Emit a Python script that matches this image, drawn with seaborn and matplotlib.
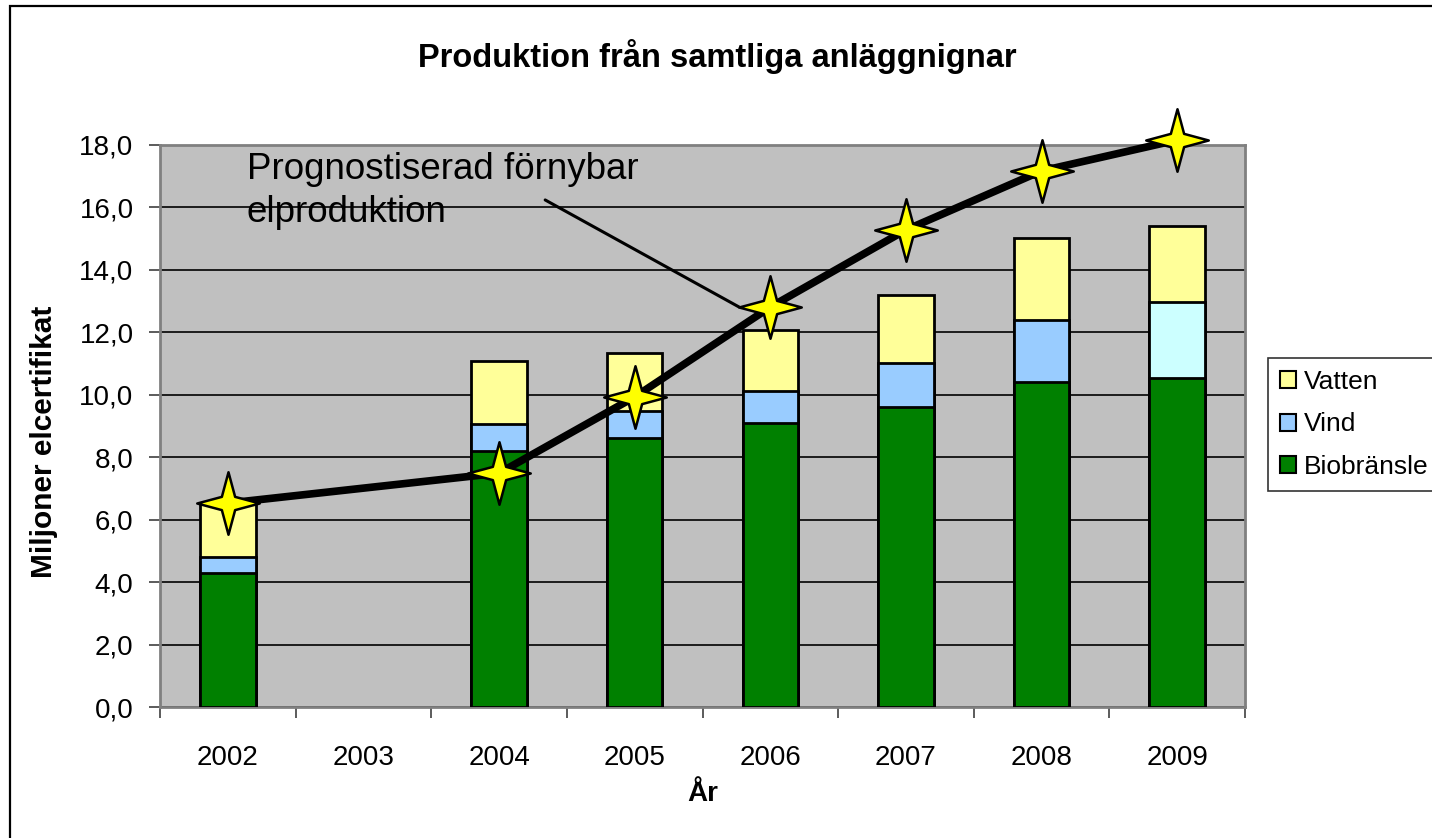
import numpy as np
import pandas as pd
import matplotlib
matplotlib.use("Agg")
import matplotlib.pyplot as plt
import matplotlib.path as mpath
from matplotlib.patches import Patch, Rectangle
from matplotlib.ticker import FixedLocator, FuncFormatter
import seaborn as sns

# ---- data ----
years = ["2002", "2003", "2004", "2005", "2006", "2007", "2008", "2009"]
biobransle = [4.3, np.nan, 8.2, 8.6, 9.1, 9.6, 10.4, 10.55]
vind = [0.52, np.nan, 0.88, 0.87, 1.02, 1.42, 1.98, 2.43]
vatten = [1.67, np.nan, 1.99, 1.86, 1.97, 2.19, 2.64, 2.44]
prog_years = ["2002", "2004", "2005", "2006", "2007", "2008", "2009"]
prog_values = [6.53, 7.49, 9.93, 12.81, 15.28, 17.17, 18.16]

title = "Produktion från samtliga anläggnignar"
xlabel = "År"
ylabel = "Miljoner elcertifikat"
annot_text = "Prognostiserad förnybar\nelproduktion"
series_names = ["Vatten", "Vind", "Biobränsle"]

# ---- colors ----
c_bio = "#008000"
c_vind = "#99CCFF"
c_vind_2009 = "#CCFFFF"
c_vatten = "#FFFF99"
vind_colors = [c_vind] * (len(years) - 1) + [c_vind_2009]

sns.set_style("white")
plt.rcParams["font.family"] = ["Liberation Sans", "DejaVu Sans"]
plt.rcParams["text.color"] = "black"
plt.rcParams["axes.labelcolor"] = "black"
plt.rcParams["xtick.color"] = "black"
plt.rcParams["ytick.color"] = "black"

df = pd.DataFrame({"year": years, "bio": biobransle, "vind": vind, "vatten": vatten})
df["bio_vind"] = df["bio"] + df["vind"]
df["total"] = df["bio_vind"] + df["vatten"]

fig = plt.figure(figsize=(14.32, 8.38), dpi=100)
ax = fig.add_axes([160 / 1432, 1 - 707 / 838, 1085 / 1432, 562 / 838])
ax.set_facecolor("#C0C0C0")

bw = 0.41
bar_kw = dict(order=years, width=bw, edgecolor="black", linewidth=2.0,
              errorbar=None, ax=ax, zorder=3)
sns.barplot(data=df, x="year", y="total", color=c_vatten, saturation=1, **bar_kw)
sns.barplot(data=df, x="year", y="bio_vind", hue="year", hue_order=years,
            palette=vind_colors, saturation=1, legend=False, dodge=False, **bar_kw)
sns.barplot(data=df, x="year", y="bio", color=c_bio, saturation=1, **bar_kw)

# prognosis line with star markers
pos = {y: i for i, y in enumerate(years)}
prog_df = pd.DataFrame({"x": [pos[y] for y in prog_years], "v": prog_values})
sns.lineplot(data=prog_df, x="x", y="v", color="black", lw=5.5, sort=False,
             ax=ax, zorder=5, solid_capstyle="butt", solid_joinstyle="round")

ang = np.deg2rad(90 + 45 * np.arange(8))
rad = np.where(np.arange(8) % 2 == 0, 1.0, 0.3)
verts = np.column_stack([rad * np.cos(ang), rad * np.sin(ang)])
verts = np.vstack([verts, verts[:1]])
codes = [mpath.Path.MOVETO] + [mpath.Path.LINETO] * 7 + [mpath.Path.CLOSEPOLY]
star = mpath.Path(verts, codes)
sns.scatterplot(data=prog_df, x="x", y="v", marker=star, s=45 ** 2,
                color="#FFFF00", edgecolor="black", linewidth=1.8, ax=ax, zorder=6)

for ln in ax.lines:
    ln.set_clip_on(False)
for col in ax.collections:
    col.set_clip_on(False)

# annotation
i06 = prog_years.index("2006")
ax.annotate("", xy=(pos["2006"] - 0.23, prog_values[i06]), xytext=(2.34, 16.24),
            arrowprops=dict(arrowstyle="-", lw=2.2, color="black",
                            shrinkA=0, shrinkB=0), zorder=4)
ax.text(0.14, 17.78, annot_text, fontsize=26.5, va="top", ha="left",
        linespacing=1.3, zorder=4)

# axes
ax.set_ylim(0, 18)
ax.set_xlim(-0.5, len(years) - 0.5)
ax.yaxis.set_major_locator(FixedLocator(np.arange(0, 18.1, 2)))
ax.yaxis.set_major_formatter(FuncFormatter(lambda v, p: f"{v:.1f}".replace(".", ",")))
ax.grid(axis="y", color="black", lw=1.2, zorder=0)
ax.grid(axis="x", visible=False)
ax.set_axisbelow(True)
ax.xaxis.set_minor_locator(FixedLocator(np.arange(-0.5, len(years), 1.0)))
ax.tick_params(axis="x", which="major", length=0, pad=27, labelsize=20)
ax.tick_params(axis="x", which="minor", length=8, width=1.2, color="#404040",
               direction="out", bottom=True)
ax.tick_params(axis="y", which="major", length=8, width=1.2, color="#404040",
               direction="out", left=True, pad=11, labelsize=20)
for s in ax.spines.values():
    s.set_color("#808080")
    s.set_linewidth(2.0)
    s.set_zorder(2)

ax.set_xlabel(xlabel, fontsize=20, fontweight="bold")
ax.xaxis.set_label_coords(0.5, -0.132)
ax.set_ylabel(ylabel, fontsize=21.5, fontweight="bold")
ax.yaxis.set_label_coords(-0.094, 0.472)

fig.text(717 / 1432, 1 - 67 / 838, title, fontsize=23.5, fontweight="bold",
         ha="center", va="baseline")

handles = [Patch(facecolor=c, edgecolor="black", lw=1.5)
           for c in [c_vatten, c_vind, c_bio]]
leg = fig.legend(handles, series_names, loc="upper left",
                 bbox_to_anchor=(1268 / 1432, 1 - 358 / 838), borderaxespad=0,
                 fontsize=19, frameon=True, fancybox=False, edgecolor="black",
                 handlelength=0.62, handleheight=0.62, handletextpad=0.3,
                 borderpad=0.45, labelspacing=0.7)
leg.get_frame().set_linewidth(1.2)

fig.patches.append(Rectangle((10 / 1432, -0.1), 1.2, 1 - 6 / 838 + 0.1,
                             transform=fig.transFigure, fill=False,
                             edgecolor="black", lw=1.6))

fig.savefig("out.png", dpi=100, facecolor="white")
